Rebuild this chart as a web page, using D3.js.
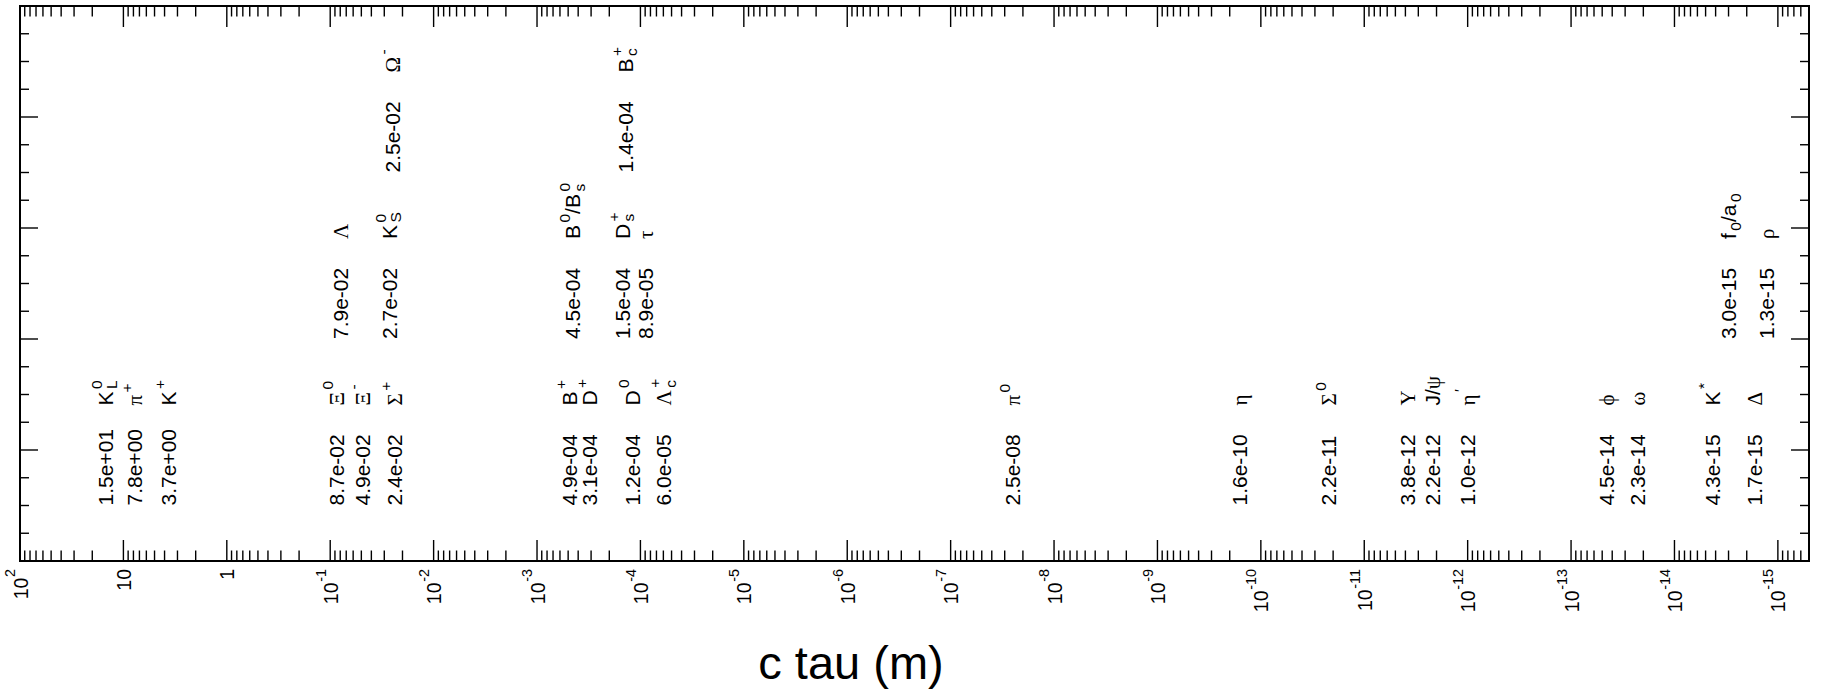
<!DOCTYPE html>
<html><head><meta charset="utf-8">
<script src="https://cdn.jsdelivr.net/npm/d3@7/dist/d3.min.js"></script>
<style>html,body{margin:0;padding:0;background:#fff;} svg{display:block;}</style>
</head><body>
<svg id="chart" width="1823" height="690"></svg>
<script>
// ---------------- data ----------------
const particleNames = ["K^{0}_{L}", "#pi^{+}", "K^{+}", "#Xi^{0}", "#Lambda", "#Xi^{-}", "K^{0}_{S}", "#Omega^{-}", "#Sigma^{+}",
  "B^{+}", "B^{0}/B^{0}_{s}", "D^{+}", "D^{+}_{s}", "B^{+}_{c}", "D^{0}", "#tau", "#Lambda^{+}_{c}",
  "#pi^{0}", "#eta", "#Sigma^{0}", "#Upsilon", "J/#psi", "#eta^{′}", "#phi", "#omega", "K^{*}", "f_{0}/a_{0}", "#Delta", "#rho"];
const cTauValues = [1.5e+01, 7.8e+00, 3.7e+00, 8.7e-02, 7.9e-02, 4.9e-02, 2.7e-02, 2.5e-02, 2.4e-02,
  4.9e-04, 4.5e-04, 3.1e-04, 1.5e-04, 1.4e-04, 1.2e-04, 8.9e-05, 6.0e-05,
  2.5e-08, 1.6e-10, 2.2e-11, 3.8e-12, 2.2e-12, 1.0e-12, 4.5e-14, 2.3e-14, 4.3e-15, 3.0e-15, 1.7e-15, 1.3e-15];
const labelLevels = [0.5, 0.5, 0.5, 0.5, 2.0, 0.5, 2.0, 3.5, 0.5,
  0.5, 2.0, 0.5, 2.0, 3.5, 0.5, 2.0, 0.5,
  0.5, 0.5, 0.5, 0.5, 0.5, 0.5, 0.5, 0.5, 0.5, 2.0, 0.5, 2.0];
const xDomain = [1e2, 5e-16];
const yDomain = [0, 5];
const decadeTicks = [1e2, 1e1, 1, 1e-1, 1e-2, 1e-3, 1e-4, 1e-5, 1e-6, 1e-7, 1e-8, 1e-9, 1e-10, 1e-11, 1e-12, 1e-13, 1e-14, 1e-15];
const decadeTickLabels = ["10^{2}", "10", "1", "10^{-1}", "10^{-2}", "10^{-3}", "10^{-4}", "10^{-5}", "10^{-6}", "10^{-7}",
  "10^{-8}", "10^{-9}", "10^{-10}", "10^{-11}", "10^{-12}", "10^{-13}", "10^{-14}", "10^{-15}"];
const xTitle = "c tau (m)";

// ---------------- layout ----------------
const SANS = "'Liberation Sans', Arial, Helvetica, sans-serif";
const SERIF = "'Liberation Serif', 'Times New Roman', 'DejaVu Serif', serif";
const L = 20, R = 1809, T = 6, B = 561;
const LABEL_FS = 21, AXIS_FS = 19.5, NAME_OFFSET = 0.9;

const svg = d3.select("#chart");
const x = d3.scaleLog().domain(xDomain).range([L, R]);
const y = d3.scaleLinear().domain(yDomain).range([B, T]);

const greek = {pi:'π', Xi:'Ξ', Sigma:'Σ', Lambda:'Λ', eta:'η', Upsilon:'Υ', psi:'ψ', phi:'ϕ', omega:'ω', Delta:'Δ', tau:'τ', rho:'ρ', Omega:'Ω'};
function parse(s){
  const out=[]; let i=0;
  while(i<s.length){
    const c=s[i];
    if(c==='#'){ let j=i+1; while(j<s.length && /[A-Za-z]/.test(s[j])) j++; out.push({k:'n', t:greek[s.slice(i+1,j)], serif:true}); i=j; }
    else if(c==='^'||c==='_'){
      const j=s.indexOf('}', i); const content=s.slice(i+2,j);
      const kind = c==='^'?'sup':'sub';
      const last=out[out.length-1];
      if(last && last.k==='script' && last[kind]===undefined) last[kind]=content; else out.push({k:'script', [kind]:content});
      i=j+1;
    } else { out.push({k:'n', t:c, serif:false}); i++; }
  }
  return out;
}
// draws latex-ish string along local u axis, baseline at v=0; returns total advance
function drawLatex(g, s, fs, o){
  let u=0;
  const put=(txt,uu,vv,size,serif)=>{
    const t=g.append('text').attr('x',uu).attr('y',vv).attr('font-size',size)
      .attr('font-family', serif?SERIF:SANS).attr('fill','#000').text(txt);
    return t.node().getComputedTextLength();
  };
  for(const tok of parse(s)){
    if(tok.k==='n'){ u+=put(tok.t,u,0,fs,tok.serif); }
    else{
      u+=o.gap*fs;
      let w=0; const sfs=fs*o.scale;
      if(tok.sup!==undefined) w=Math.max(w, put(tok.sup,u,-o.up*fs,sfs,false));
      if(tok.sub!==undefined) w=Math.max(w, put(tok.sub,u,o.down*fs,sfs,false));
      u+=w;
    }
  }
  return u;
}
function fmtExp(v){
  const [m,e]=v.toExponential(1).split('e'); const n=+e;
  return m+'e'+(n<0?'-':'+')+String(Math.abs(n)).padStart(2,'0');
}

// ---------------- frame & ticks ----------------
const minorTicks=[];
for(let e=-16;e<=2;e++) for(let m=1;m<=9;m++){
  const v=+(m+'e'+e);
  if(v<=xDomain[0]*1.0000001 && v>=xDomain[1]*0.9999999) minorTicks.push({v, major:m===1});
}
const tickG=svg.append('g').attr('stroke','#000').attr('stroke-width',1.4);
minorTicks.forEach(t=>{
  const px=x(t.v), len=t.major?21:10.5;
  tickG.append('line').attr('x1',px).attr('x2',px).attr('y1',B).attr('y2',B-len);
  tickG.append('line').attr('x1',px).attr('x2',px).attr('y1',T).attr('y2',T+len);
});
d3.range(yDomain[0], yDomain[1]+1e-9, 0.25).forEach(v=>{
  const py=y(v), major=Math.abs(v-Math.round(v))<1e-9, len=major?18:9;
  tickG.append('line').attr('x1',L).attr('x2',L+len).attr('y1',py).attr('y2',py);
  tickG.append('line').attr('x1',R).attr('x2',R-len).attr('y1',py).attr('y2',py);
});
svg.append('rect').attr('x',L).attr('y',T).attr('width',R-L).attr('height',B-T)
  .attr('fill','none').attr('stroke','#000').attr('stroke-width',2);

// axis labels
decadeTicks.forEach((v,i)=>{
  const g=svg.append('g').attr('transform',`translate(${x(v)+0.36*AXIS_FS+0.5},${B+8}) rotate(-90)`);
  const inner=g.append('g');
  const w=drawLatex(inner, decadeTickLabels[i], AXIS_FS, {scale:0.74, up:0.62, down:0.2, gap:0.03});
  inner.attr('transform',`translate(${-w},0)`);
});
svg.append('text').attr('x',851).attr('y',679).attr('text-anchor','middle')
  .attr('font-family',SANS).attr('font-size',47).text(xTitle);

// ---------------- particle labels ----------------
cTauValues.forEach((v,i)=>{
  const bx=x(v)+0.358*LABEL_FS;
  svg.append('text').attr('transform',`translate(${bx},${y(labelLevels[i])}) rotate(-90)`)
    .attr('font-family',SANS).attr('font-size',LABEL_FS).attr('fill','#000').text(fmtExp(v));
  const g=svg.append('g').attr('transform',`translate(${bx},${y(labelLevels[i]+NAME_OFFSET)}) rotate(-90)`);
  drawLatex(g, particleNames[i], LABEL_FS, {scale:0.74, up:0.5, down:0.22, gap:0.12});
});
</script>
</body></html>
